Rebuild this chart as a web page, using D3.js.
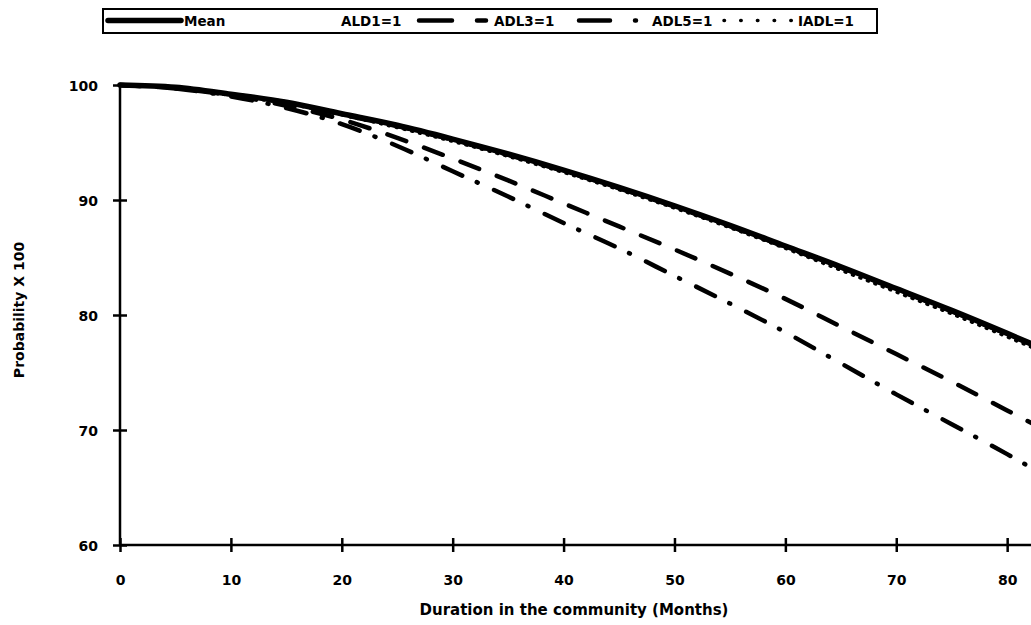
<!DOCTYPE html>
<html><head><meta charset="utf-8">
<script src="https://cdn.jsdelivr.net/npm/d3@7"></script>
<style>
body{margin:0;background:#fff;}
svg{display:block;font-family:"DejaVu Sans",sans-serif;font-weight:bold;}
</style></head>
<body><svg id="c" width="1031" height="625"></svg>
<script>
const months = [0,5,10,15,20,25,30,35,40,45,50,55,60,65,70,75,80,82.2];
const meanVals = [100,99.8,99.2,98.5,97.5,96.5,95.3,94.0,92.6,91.1,89.5,87.8,86.0,84.2,82.3,80.4,78.4,77.5];
const ald1Vals = [100,99.8,99.2,98.5,97.4,96.4,95.2,93.9,92.5,91.0,89.4,87.7,85.9,84.1,82.2,80.3,78.3,77.4];
const adl3Vals = [100,99.7,99.1,98.2,97.0,95.4,93.6,91.7,89.7,87.7,85.7,83.6,81.4,79.0,76.6,74.2,71.7,70.6];
const adl5Vals = [100,99.7,99.0,98.0,96.6,94.7,92.5,90.3,88.0,85.8,83.4,81.0,78.5,75.8,73.1,70.5,67.9,66.7];
const iadlVals = [100,99.8,99.1,98.4,97.4,96.3,95.1,93.8,92.4,90.9,89.3,87.6,85.8,83.9,82.0,80.1,78.1,77.2];
const seriesNames = ["Mean","ALD1=1","ADL3=1","ADL5=1","IADL=1"];
const xTicks = [0,10,20,30,40,50,60,70,80];
const yTicks = [60,70,80,90,100];
const xTitle = "Duration in the community (Months)";
const yTitle = "Probability X 100";

const styles = {
  "Mean":   {w:5.5, dash:null,          legendDash:null},
  "ALD1=1": {w:4,   dash:"20,19",       legendDash:null},
  "ADL3=1": {w:4.5, dash:"20,19",       legendDash:"33,25,9,40"},
  "ADL5=1": {w:4.5, dash:"21,16,1,18",  legendDash:"31,25,1,60"},
  "IADL=1": {w:3.5, dash:"1,7",         legendDash:"0.5,16.2"}
};
const valuesBy = {"Mean":meanVals,"ALD1=1":ald1Vals,"ADL3=1":adl3Vals,"ADL5=1":adl5Vals,"IADL=1":iadlVals};

const svg = d3.select("#c");
const x = d3.scaleLinear().domain([0,82.15]).range([120,1031]);
const y = d3.scaleLinear().domain([60,100]).range([545,85]);
const fontTick = 14;

// axes
const gx = svg.append("g").attr("transform","translate(0,545)")
  .call(d3.axisBottom(x).tickValues(xTicks).tickSize(7).tickPadding(0).tickFormat(d3.format("d")));
gx.select(".domain").attr("d",`M${x.range()[0]},0H${x.range()[1]}`).attr("stroke","#000").attr("stroke-width",2.5);
gx.selectAll(".tick line").attr("y1",-7).attr("y2",7).attr("stroke","#000").attr("stroke-width",2.5);
gx.selectAll(".tick text").attr("y",40).attr("dy",0).attr("font-size",fontTick).attr("font-weight","bold")
  .attr("fill","#000").attr("font-family","DejaVu Sans, sans-serif");

const gy = svg.append("g").attr("transform","translate(120,0)")
  .call(d3.axisLeft(y).tickValues(yTicks).tickSize(7).tickPadding(0).tickFormat(d3.format("d")));
gy.select(".domain").attr("d",`M0,${y.range()[0]}V${y.range()[1]}`).attr("stroke","#000").attr("stroke-width",2.5);
gy.selectAll(".tick line").attr("x1",-7).attr("x2",7).attr("stroke","#000").attr("stroke-width",2.5);
gy.selectAll(".tick text").attr("x",-22).attr("dy","0.36em").attr("font-size",fontTick).attr("font-weight","bold")
  .attr("fill","#000").attr("font-family","DejaVu Sans, sans-serif");

svg.append("text").attr("x",574).attr("y",615).attr("text-anchor","middle").attr("font-size",15).text(xTitle);
svg.append("text").attr("transform","translate(24,310) rotate(-90)").attr("text-anchor","middle").attr("font-size",14).text(yTitle);

// lines
const line = d3.line().x((d,i)=>x(months[i])).y(d=>y(d)).curve(d3.curveMonotoneX);
const drawOrder = ["ADL5=1","ADL3=1","ALD1=1","IADL=1","Mean"];
drawOrder.forEach(n=>{
  const s = styles[n];
  svg.append("path").datum(valuesBy[n]).attr("d",line)
    .attr("fill","none").attr("stroke","#000").attr("stroke-width",s.w)
    .attr("stroke-dasharray",s.dash).attr("stroke-linecap","round").attr("stroke-linejoin","round");
});

// legend
const lg = svg.append("g");
lg.append("rect").attr("x",103).attr("y",9).attr("width",774).attr("height",24)
  .attr("fill","#fff").attr("stroke","#000").attr("stroke-width",2);
const legendItems = [
  {name:"Mean",   sx:[108,181], tx:184},
  {name:"ALD1=1", sx:null,      tx:341},
  {name:"ADL3=1", sx:[419,488], tx:494},
  {name:"ADL5=1", sx:[579,636], tx:652},
  {name:"IADL=1", sx:[724,792], tx:798}
];
const ly = 20.5;
legendItems.forEach(it=>{
  const s = styles[it.name];
  if(it.sx){
    lg.append("line").attr("x1",it.sx[0]).attr("x2",it.sx[1]).attr("y1",ly).attr("y2",ly)
      .attr("stroke","#000").attr("stroke-width",s.w)
      .attr("stroke-dasharray",s.legendDash).attr("stroke-linecap","round");
  }
  lg.append("text").attr("x",it.tx).attr("y",25.5).attr("font-size",13.5).text(it.name);
});
</script></body></html>
